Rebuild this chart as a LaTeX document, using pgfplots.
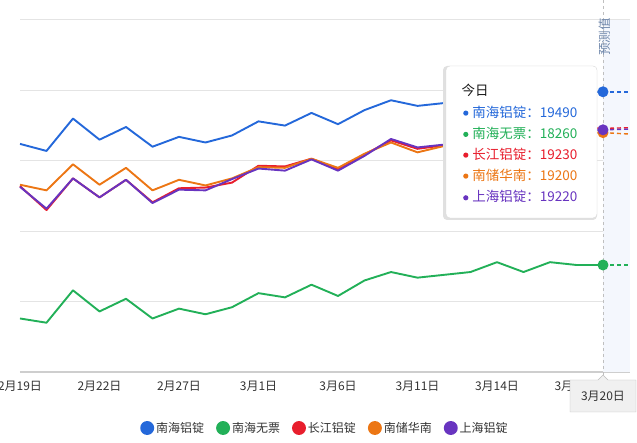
\documentclass[border=0pt]{standalone}
\usepackage{fontspec}
\setmainfont{Noto Sans CJK SC}
\usepackage{pgfplots}
\usepackage{pgfplotstable}
\pgfplotsset{compat=1.18}
\definecolor{cblue}{RGB}{36,104,218}
\definecolor{cgreen}{RGB}{34,176,88}
\definecolor{cred}{RGB}{232,30,45}
\definecolor{corange}{RGB}{236,118,20}
\definecolor{cpurple}{RGB}{104,52,192}
\definecolor{cgrid}{RGB}{228,228,228}
\definecolor{caxis}{RGB}{206,206,206}
\definecolor{cshade}{RGB}{244,247,253}
\definecolor{ctext}{RGB}{51,51,51}
\definecolor{cpred}{RGB}{110,134,170}

\pgfplotstableread{
x blue green red orange purple
0 19120 17880 18820 18830 18815
1 19070 17850 18650 18790 18660
2 19300 18080 18875 18975 18875
3 19150 17930 18740 18830 18740
4 19240 18020 18865 18950 18865
5 19100 17880 18705 18790 18700
6 19170 17950 18805 18865 18795
7 19130 17910 18810 18825 18790
8 19180 17960 18845 18875 18870
9 19280 18060 18965 18955 18945
10 19250 18030 18960 18950 18930
11 19340 18120 19015 19015 19010
12 19260 18040 18940 18950 18930
13 19360 18150 19045 19050 19035
14 19430 18210 19145 19130 19155
15 19390 18170 19085 19060 19095
16 19410 18190 19110 19105 19115
17 19440 18210 19130 19120 19140
18 19510 18280 19200 19180 19210
19 19440 18210 19150 19130 19150
20 19510 18280 19230 19200 19230
21 19490 18260 19230 19200 19220
22 19490 18260 19230 19200 19220
}\datatable

\pgfplotstableread{
x blue green red orange purple
22 19490 18260 19230 19200 19220
23 19490 18260 19235 19190 19225
}\predtable

\newcommand{\tdot}[1]{\tikz[baseline=-0.55ex]\fill[#1] (0,0) circle (2.6pt);}

\begin{document}
\begin{tikzpicture}[x=1pt,y=1pt]
\begin{axis}[
  at={(0,0)}, anchor=south west,
  scale only axis, width=609.5pt, height=352pt,
  xmin=0, xmax=23, ymin=17500, ymax=20000,
  clip=false,
  scaled y ticks=false,
  axis line style={draw=none},
  major tick length=0pt,
  xtick={0,3,...,21},
  xticklabels={2月19日,2月22日,2月27日,3月1日,3月6日,3月11日,3月14日,3月19日},
  xticklabel style={anchor=center, yshift=-14pt, font=\fontsize{12}{14}\selectfont, text=ctext},
  ytick={18000,18500,...,20000},
  yticklabels={},
  ymajorgrids, grid style={cgrid, line width=1pt},
  extra y ticks={17500}, extra y tick labels={},
  extra y tick style={grid style={caxis, line width=1.6pt}},
  legend columns=-1,
  legend style={at={(0.5004,0)}, anchor=center, yshift=-56pt, draw=none, fill=none,
    font=\fontsize{12}{14}\selectfont, text=ctext,
    /tikz/every even column/.append style={column sep=10pt}},
  legend image code/.code={\fill[#1] (6pt,0pt) circle (6pt);},
  every axis plot/.append style={line width=1.9pt, line join=round},
]
\fill[cshade] (axis cs:22,17500) rectangle (axis cs:23,20000);
\draw[black!25, line width=1pt, dash pattern=on 3pt off 3pt] (axis cs:22,20143) -- (axis cs:22,17443);

\addplot[forget plot, cblue, line width=1.4pt, dash pattern=on 4pt off 3pt] table[x=x,y=blue]{\predtable};
\addplot[forget plot, cgreen, line width=1.4pt, dash pattern=on 4pt off 3pt] table[x=x,y=green]{\predtable};
\addplot[forget plot, corange, line width=1.4pt, dash pattern=on 4pt off 3pt] table[x=x,y=orange]{\predtable};
\addplot[forget plot, cred, line width=1.4pt, dash pattern=on 4pt off 3pt] table[x=x,y=red]{\predtable};
\addplot[forget plot, cpurple, line width=1.4pt, dash pattern=on 4pt off 3pt] table[x=x,y=purple]{\predtable};

\addplot[cblue, mark=*, mark indices={23}, mark size=4.5pt] table[x=x,y=blue]{\datatable};
\addlegendentry{南海铝锭}
\addplot[cgreen, mark=*, mark indices={23}, mark size=4.5pt] table[x=x,y=green]{\datatable};
\addlegendentry{南海无票}
\addplot[cred] table[x=x,y=red]{\datatable};
\addlegendentry{长江铝锭}
\addplot[corange, mark=*, mark indices={23}, mark size=4.5pt] table[x=x,y=orange]{\datatable};
\addlegendentry{南储华南}
\addplot[cpurple, mark=*, mark indices={23}, mark size=4.5pt] table[x=x,y=purple]{\datatable};
\addlegendentry{上海铝锭}
\end{axis}

% forecast label
\node[rotate=90, text=cpred, font=\fontsize{12.5}{14}\selectfont, inner sep=0] at (585,335) {预测值};

% tooltip
\fill[black!12, rounded corners=4pt] (423,152) rectangle (577,306);
\draw[black!14, fill=white, rounded corners=4pt] (426,154) rectangle (577,306);
\node[anchor=west, inner sep=0, text=black!90, font=\fontsize{13.5}{16}\selectfont] at (441.5,282) {今日};
\begin{scope}[font=\fontsize{13.5}{16}\selectfont]
\node[anchor=west, inner sep=0, text=cblue] at (443,260) {\tdot{cblue}\hspace{4pt}南海铝锭：19490};
\node[anchor=west, inner sep=0, text=cgreen] at (443,238.7) {\tdot{cgreen}\hspace{4pt}南海无票：18260};
\node[anchor=west, inner sep=0, text=cred] at (443,218) {\tdot{cred}\hspace{4pt}长江铝锭：19230};
\node[anchor=west, inner sep=0, text=corange] at (443,197) {\tdot{corange}\hspace{4pt}南储华南：19200};
\node[anchor=west, inner sep=0, text=cpurple] at (443,175.3) {\tdot{cpurple}\hspace{4pt}上海铝锭：19220};
\end{scope}

% x pointer label
\draw[black!25, fill=black!6, line join=round] (550,-8) -- (578,-8) -- (583,-3) -- (588,-8) -- (616,-8) -- (616,-40) -- (550,-40) -- cycle;
\node[text=ctext, font=\fontsize{12}{14}\selectfont, inner sep=0] at (583,-24) {3月20日};

\pgfresetboundingbox
\useasboundingbox (-20,-71) rectangle (617,372);
\end{tikzpicture}
\end{document}
